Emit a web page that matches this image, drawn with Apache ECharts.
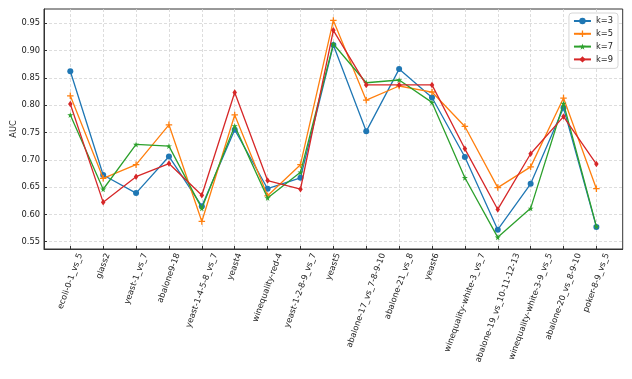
<!DOCTYPE html>
<html>
<head>
<meta charset="utf-8">
<script src="https://cdn.jsdelivr.net/npm/echarts@6/dist/echarts.min.js"></script>
<style>
html,body{margin:0;padding:0;background:#fff;}
#chart{width:632px;height:379px;}
</style>
</head>
<body>
<div id="chart"></div>
<script>
const categories = ['ecoli-0-1_vs_5','glass2','yeast-1_vs_7','abalone9-18','yeast-1-4-5-8_vs_7','yeast4','winequality-red-4','yeast-1-2-8-9_vs_7','yeast5','abalone-17_vs_7-8-9-10','abalone-21_vs_8','yeast6','winequality-white-3_vs_7','abalone-19_vs_10-11-12-13','winequality-white-3-9_vs_5','abalone-20_vs_8-9-10','poker-8-9_vs_5'];
const k3 = [0.862,0.672,0.639,0.706,0.615,0.755,0.647,0.667,0.910,0.752,0.866,0.814,0.705,0.572,0.656,0.795,0.577];
const k5 = [0.817,0.666,0.691,0.764,0.587,0.782,0.634,0.691,0.955,0.809,0.835,0.824,0.761,0.649,0.687,0.813,0.647];
const k7 = [0.782,0.646,0.728,0.725,0.611,0.762,0.630,0.677,0.912,0.841,0.846,0.805,0.667,0.558,0.611,0.803,0.578];
const k9 = [0.802,0.622,0.669,0.693,0.635,0.823,0.662,0.646,0.937,0.837,0.837,0.837,0.720,0.609,0.711,0.779,0.692];
const seriesNames = ['k=3','k=5','k=7','k=9'];
const yTicks = [0.55,0.60,0.65,0.70,0.75,0.80,0.85,0.90,0.95];

const FONT = 'DejaVu Sans';
const FS = 8.3;
const colors = ['#1f77b4','#ff7f0e','#2ca02c','#d62728'];

// measure label widths to mimic matplotlib's centered rotated labels
const cv = document.createElement('canvas').getContext('2d');
cv.font = FS + 'px "' + FONT + '"';
const rich = {};
const idx = categories.map((c, i) => i);
const s70 = Math.sin(70 * Math.PI / 180), c70 = Math.cos(70 * Math.PI / 180);
categories.forEach((c, i) => {
  const L = cv.measureText(c).width;
  const h = FS * 1.17;
  const D = 2.9 + (s70 * L + c70 * h) / 2;
  rich['r' + i] = {
    fontFamily: FONT, fontSize: FS, color: '#222',
    padding: [2 * c70 * D, 2 * s70 * D, 0, 0]
  };
});

const plusPath = 'path://M0,40 L100,40 L100,60 L0,60 Z M40,0 L60,0 L60,100 L40,100 Z';
const starPath = 'path://M50,0 L61,35 L98,35 L68,57 L79,91 L50,70 L21,91 L32,57 L2,35 L39,35 Z';
const symbols = ['circle', plusPath, starPath, 'diamond'];
const symbolSizes = [6, 6.5, 6, [4.5, 6.5]];
const allData = [k3, k5, k7, k9];

const chart = echarts.init(document.getElementById('chart'), null, {renderer: 'canvas'});
chart.setOption({
  animation: false,
  textStyle: {fontFamily: FONT},
  grid: {left: 44, right: 9.3, top: 9, bottom: 130, show: true, borderColor: '#333', borderWidth: 1, containLabel: false, outerBoundsMode: 'none'},
  legend: {
    right: 14, top: 13, orient: 'vertical',
    itemWidth: 17, itemHeight: 8, itemGap: 2.8,
    padding: [3, 5, 4, 4],
    borderColor: '#ccc', borderWidth: 0.8, borderRadius: 3,
    backgroundColor: 'rgba(255,255,255,0.85)',
    textStyle: {fontFamily: FONT, fontSize: FS, color: '#222', lineHeight: 10},
    data: seriesNames
  },
  xAxis: {
    type: 'value', min: -0.8, max: 16.8,
    axisLine: {show: true, onZero: false, lineStyle: {color: '#333', width: 1}},
    axisTick: {show: true, inside: true, length: 3, customValues: idx, lineStyle: {color: '#333'}},
    axisLabel: {
      show: true, customValues: idx, rotate: 70, margin: 0,
      align: 'center', verticalAlign: 'middle',
      fontFamily: FONT, fontSize: FS, color: '#222',
      formatter: v => (Number.isInteger(v) && categories[v] !== undefined) ? '{r' + v + '|' + categories[v] + '}' : '',
      rich: rich
    },
    splitLine: {show: true, lineStyle: {color: '#d4d4d4', type: [3, 2], width: 0.8}}
  },
  yAxis: {
    type: 'value', min: 0.5366, max: 0.976,
    name: 'AUC', nameLocation: 'middle', nameGap: 26, nameRotate: 90, nameMoveOverlap: false,
    nameTextStyle: {fontFamily: FONT, fontSize: FS, color: '#222'},
    axisLine: {show: true, onZero: false, lineStyle: {color: '#333', width: 1}},
    axisTick: {show: true, inside: true, length: 3, customValues: yTicks, lineStyle: {color: '#333'}},
    axisLabel: {show: true, customValues: yTicks, margin: 4, fontFamily: FONT, fontSize: FS, color: '#222',
      formatter: v => v.toFixed(2)},
    splitLine: {show: true, lineStyle: {color: '#d4d4d4', type: [3, 2], width: 0.8}}
  },
  series: seriesNames.map((n, s) => ({
    name: n, type: 'line',
    data: allData[s].map((v, i) => [i, v]),
    symbol: symbols[s], symbolSize: symbolSizes[s],
    showAllSymbol: true,
    itemStyle: {color: colors[s]},
    lineStyle: {color: colors[s], width: 1.3},
    z: 2 + s
  }))
});
</script>
</body>
</html>
